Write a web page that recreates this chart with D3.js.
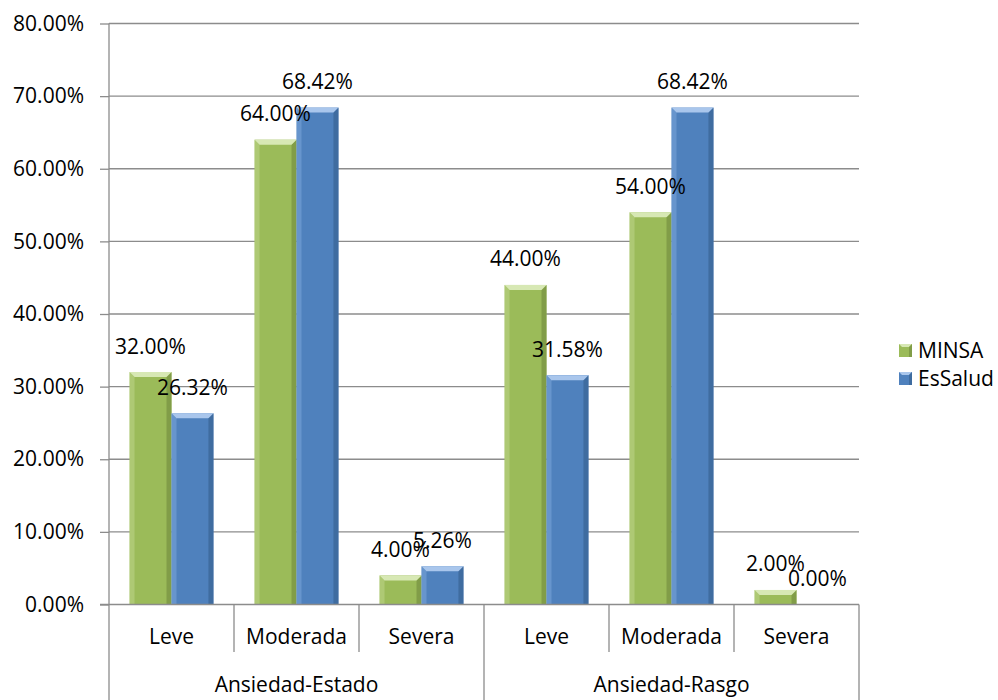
<!DOCTYPE html>
<html>
<head>
<meta charset="utf-8">
<script src="https://cdn.jsdelivr.net/npm/d3@7"></script>
<style>
  html, body { margin: 0; padding: 0; background: #fff; }
  svg { display: block; }
  text { font-family: "Open Sans", "Liberation Sans", sans-serif; fill: #000; }
</style>
</head>
<body>
<svg id="chart" width="998" height="700"></svg>
<script>
// Anxiety levels by institution
const groups = ["Ansiedad-Estado", "Ansiedad-Rasgo"];
const categories = ["Leve", "Moderada", "Severa"];
const seriesNames = ["MINSA", "EsSalud"];
const minsa = [32.00, 64.00, 4.00, 44.00, 54.00, 2.00];
const esSalud = [26.32, 68.42, 5.26, 31.58, 68.42, 0.00];
const yTicks = [0, 10, 20, 30, 40, 50, 60, 70, 80];

const palette = {
  MINSA:   { base: "#9bbb59", light: "#c6dc94", lighter: "#d7e8b4", dark: "#7a9643" },
  EsSalud: { base: "#4f81bd", light: "#86aee0", lighter: "#a9c6ec", dark: "#3b6699" }
};

const svg = d3.select("#chart");
const plotLeft = 109, plotRight = 859, plotTop = 23.5, plotBottom = 604.5;

const rows = [];
groups.forEach(g => categories.forEach(c => rows.push({ group: g, cat: c })));
rows.forEach((r, i) => { r.MINSA = minsa[i]; r.EsSalud = esSalud[i]; r.key = i; });

const x = d3.scaleBand().domain(rows.map(r => r.key)).range([plotLeft, plotRight]).paddingInner(0).paddingOuter(0);
const xs = d3.scaleBand().domain(seriesNames).range([0, x.bandwidth()]).paddingInner(0).paddingOuter(0.49);
const y = d3.scaleLinear().domain([0, 80]).range([plotBottom, plotTop]);

// gridlines
const grid = svg.append("g");
grid.selectAll("line").data(yTicks.filter(t => t > 0)).join("line")
  .attr("x1", plotLeft).attr("x2", plotRight)
  .attr("y1", d => y(d)).attr("y2", d => y(d))
  .attr("stroke", "#8c8c8c").attr("stroke-width", 1.3);

// y axis
const yAxis = d3.axisLeft(y).tickValues(yTicks).tickSize(9).tickPadding(16)
  .tickFormat(d => d3.format(".2f")(d) + "%");
const ya = svg.append("g").attr("transform", `translate(${plotLeft},0)`).call(yAxis);
ya.select(".domain").remove();
ya.selectAll(".tick line").attr("stroke", "#8c8c8c").attr("stroke-width", 1.3);
ya.selectAll(".tick text").attr("font-size", 21).attr("font-family", "'Open Sans', sans-serif").attr("fill", "#000");

// bars with bevelled edges
const bevel = 5;
const barData = [];
rows.forEach(r => seriesNames.forEach(s => barData.push({ r, s, v: r[s] })));

const bars = svg.append("g");
barData.forEach(d => {
  if (d.v <= 0) return;
  const p = palette[d.s];
  const x0 = x(d.r.key) + xs(d.s), w = xs.bandwidth();
  const y0 = y(d.v), y1 = y(0);
  const g = bars.append("g");
  g.append("rect").attr("x", x0).attr("y", y0).attr("width", w).attr("height", y1 - y0).attr("fill", p.base);
  const bb = Math.min(bevel, (y1 - y0) / 2);
  // left side
  g.append("polygon").attr("points", [[x0, y0], [x0 + bb, y0 + bb], [x0 + bb, y1], [x0, y1]].join(" "))
    .attr("fill", p.light).attr("opacity", 0.45);
  // right side
  g.append("polygon").attr("points", [[x0 + w, y0], [x0 + w - bb, y0 + bb], [x0 + w - bb, y1], [x0 + w, y1]].join(" "))
    .attr("fill", p.dark).attr("opacity", 0.8);
  // top bevel
  g.append("polygon").attr("points", [[x0, y0], [x0 + w, y0], [x0 + w - bb, y0 + bb], [x0 + bb, y0 + bb]].join(" "))
    .attr("fill", p.lighter);
});

// value labels
svg.append("g").selectAll("text").data(barData).join("text")
  .attr("x", d => x(d.r.key) + xs(d.s) + xs.bandwidth() / 2)
  .attr("y", d => y(d.v) - 18.5)
  .attr("text-anchor", "middle")
  .attr("font-size", 21)
  .text(d => d3.format(".2f")(d.v) + "%");

// category axis frame
const frame = svg.append("g").attr("stroke", "#8c8c8c").attr("stroke-width", 1.3);
frame.append("line").attr("x1", plotLeft - 9).attr("x2", plotRight).attr("y1", plotBottom).attr("y2", plotBottom);
frame.append("line").attr("x1", plotLeft).attr("x2", plotLeft).attr("y1", plotTop).attr("y2", 700);
rows.forEach((r, i) => {
  const xr = x(r.key) + x.bandwidth();
  const groupEnd = (i + 1) % categories.length === 0;
  frame.append("line").attr("x1", xr).attr("x2", xr).attr("y1", plotBottom).attr("y2", groupEnd ? 700 : 652);
});

// category labels
svg.append("g").selectAll("text").data(rows).join("text")
  .attr("x", d => x(d.key) + x.bandwidth() / 2)
  .attr("y", 644)
  .attr("text-anchor", "middle")
  .attr("font-size", 21)
  .text(d => d.cat);

// group labels
svg.append("g").selectAll("text").data(groups).join("text")
  .attr("x", g => {
    const ks = rows.filter(r => r.group === g).map(r => r.key);
    return (x(ks[0]) + x(ks[ks.length - 1]) + x.bandwidth()) / 2;
  })
  .attr("y", 692)
  .attr("text-anchor", "middle")
  .attr("font-size", 21)
  .text(d => d);

// legend
const legend = svg.append("g");
seriesNames.forEach((s, i) => {
  const p = palette[s];
  const cy = 350 + i * 28;
  const lg = legend.append("g");
  lg.append("rect").attr("x", 899).attr("y", cy - 6).attr("width", 13).attr("height", 13).attr("fill", p.base);
  lg.append("polygon").attr("points", [[899, cy - 6], [912, cy - 6], [909, cy - 3], [902, cy - 3]].join(" ")).attr("fill", p.lighter);
  lg.append("polygon").attr("points", [[912, cy - 6], [909, cy - 3], [909, cy + 7], [912, cy + 7]].join(" ")).attr("fill", p.dark).attr("opacity", 0.8);
  lg.append("text").attr("x", 918).attr("y", cy + 7.5).attr("font-size", 21).text(s);
});
</script>
</body>
</html>
